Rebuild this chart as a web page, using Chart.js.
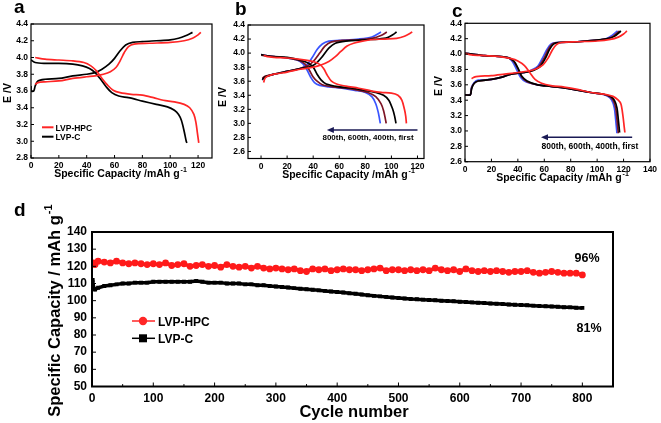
<!DOCTYPE html>
<html><head><meta charset="utf-8">
<script src="https://cdn.jsdelivr.net/npm/chart.js@4.4.1/dist/chart.umd.min.js"></script>
<style>
html,body{margin:0;padding:0;background:#fff;}
#wrap{position:relative;width:661px;height:423px;overflow:hidden;background:#fff;}
canvas{position:absolute;left:0;top:0;}
</style></head><body>
<div id="wrap">
<canvas id="ca" width="661" height="423"></canvas>
<canvas id="cb" width="661" height="423"></canvas>
<canvas id="cc" width="661" height="423"></canvas>
<canvas id="cd" width="661" height="423"></canvas>
</div>
<script>
// ---------- Panel a : charge / discharge profiles [capacity, voltage] ----------
const aHpcCharge = [[3,3.68],[5,3.70],[10,3.71],[20,3.72],[30,3.75],[40,3.77],[46,3.78],[52,3.80],[57,3.83],[61,3.88],[64,3.96],[67,4.06],[70,4.13],[74,4.16],[85,4.17],[100,4.18],[110,4.20],[116,4.23],[120,4.27],[122,4.30]];
const aHpcDischarge = [[3,4.00],[10,3.98],[20,3.97],[30,3.96],[38,3.94],[43,3.90],[47,3.84],[51,3.75],[55,3.67],[59,3.61],[64,3.58],[72,3.56],[80,3.55],[88,3.52],[95,3.49],[103,3.47],[110,3.44],[114,3.40],[117,3.32],[118.5,3.22],[119.5,3.10],[120.5,2.98]];
const aCCharge = [[0,3.66],[0,3.60],[2,3.60],[3,3.66],[5,3.72],[10,3.74],[20,3.75],[30,3.78],[40,3.80],[46,3.82],[51,3.86],[56,3.92],[60,3.99],[64,4.08],[68,4.15],[73,4.18],[80,4.19],[90,4.20],[100,4.21],[106,4.23],[111,4.26],[116,4.30]];
const aCDischarge = [[0,3.97],[3,3.94],[10,3.93],[20,3.93],[30,3.92],[37,3.90],[42,3.87],[46,3.82],[50,3.74],[54,3.65],[58,3.58],[63,3.54],[70,3.52],[80,3.48],[90,3.44],[98,3.41],[103,3.37],[106,3.32],[108,3.25],[110,3.12],[111.5,3.0],[112,2.98]];
const aXTicks = [0,20,40,60,80,100,120];
const aYTicks = [2.8,3.0,3.2,3.4,3.6,3.8,4.0,4.2,4.4];

// ---------- Panel b : LVP-C at first / 400th / 600th / 800th cycle ----------
const bFirstCharge = [[2,3.58],[3,3.64],[5,3.67],[10,3.70],[20,3.73],[30,3.77],[40,3.80],[46,3.83],[52,3.88],[57,3.95],[61,4.02],[66,4.10],[71,4.14],[78,4.17],[84,4.19],[95,4.20],[104,4.21],[110,4.24],[116,4.30]];
const bFirstDischarge = [[2,3.97],[5,3.95],[10,3.94],[20,3.93],[30,3.91],[40,3.88],[45,3.84],[48,3.78],[51,3.68],[54,3.60],[58,3.56],[65,3.53],[75,3.50],[85,3.46],[92,3.44],[100,3.43],[105,3.40],[108,3.33],[110,3.20],[111,3.10],[111.5,3.0]];
const b400Charge = [[1,3.62],[3,3.66],[10,3.70],[20,3.74],[30,3.78],[38,3.81],[42,3.85],[47,3.95],[52,4.07],[57,4.14],[65,4.17],[80,4.19],[90,4.20],[97,4.22],[101,4.26],[104,4.30]];
const b400Discharge = [[0,3.98],[5,3.96],[10,3.95],[20,3.94],[30,3.90],[36,3.86],[40,3.80],[43,3.70],[46,3.62],[50,3.56],[60,3.52],[70,3.50],[80,3.47],[88,3.44],[94,3.40],[98,3.33],[101,3.20],[102.5,3.10],[103.5,3.0]];
const b600Charge = [[1,3.64],[3,3.67],[10,3.70],[20,3.74],[30,3.78],[36,3.82],[40,3.88],[45,4.00],[49,4.10],[54,4.16],[62,4.18],[75,4.19],[85,4.21],[92,4.25],[96.5,4.30]];
const b600Discharge = [[0,3.97],[5,3.96],[10,3.95],[20,3.93],[30,3.89],[34,3.84],[37,3.76],[40,3.66],[43,3.60],[47,3.55],[55,3.52],[65,3.50],[75,3.47],[82,3.44],[88,3.38],[92,3.28],[94,3.18],[95.5,3.05],[96,3.0]];
const b800Charge = [[1,3.62],[3,3.66],[10,3.70],[20,3.74],[30,3.78],[35,3.83],[39,3.93],[43,4.05],[47,4.13],[52,4.17],[60,4.18],[75,4.20],[85,4.23],[92,4.30]];
const b800Discharge = [[0,3.98],[5,3.96],[10,3.95],[20,3.93],[28,3.90],[32,3.85],[35,3.77],[38,3.66],[41,3.58],[45,3.54],[52,3.52],[62,3.50],[72,3.47],[80,3.44],[85,3.38],[88,3.28],[90,3.15],[91,3.05],[91.5,3.0]];
const bXTicks = [0,20,40,60,80,100,120];
const bYTicks = [2.6,2.8,3.0,3.2,3.4,3.6,3.8,4.0,4.2,4.4];
const bArrowCap = [120, 50.5];
const bArrowV = 2.905;

// ---------- Panel c : LVP-HPC at first / 400th / 600th / 800th cycle ----------
const cFirstCharge = [[5,3.68],[7,3.70],[10,3.71],[20,3.72],[30,3.74],[40,3.76],[48,3.78],[54,3.81],[59,3.86],[63,3.95],[66,4.05],[69,4.12],[73,4.15],[85,4.16],[100,4.17],[110,4.19],[116,4.22],[120,4.26],[122.5,4.30]];
const cFirstDischarge = [[0,4.01],[5,3.99],[15,3.98],[25,3.97],[35,3.94],[40,3.91],[45,3.85],[49,3.76],[53,3.67],[58,3.62],[65,3.59],[75,3.57],[85,3.54],[95,3.50],[105,3.48],[112,3.45],[116,3.40],[118,3.35],[119.5,3.2],[120.5,3.05],[121,2.98]];
const c400Charge = [[0,3.47],[4,3.47],[5,3.55],[7,3.62],[10,3.65],[20,3.67],[28,3.70],[35,3.74],[45,3.76],[52,3.79],[57,3.84],[61,3.95],[64,4.06],[67,4.13],[71,4.15],[85,4.16],[100,4.18],[108,4.20],[113,4.23],[118,4.30]];
const c400Discharge = [[0,4.01],[5,4.00],[15,3.98],[25,3.97],[33,3.95],[37,3.91],[40,3.82],[43,3.71],[47,3.65],[55,3.60],[65,3.58],[75,3.56],[85,3.53],[95,3.50],[104,3.48],[110,3.45],[113,3.40],[115,3.30],[116,3.15],[117,2.98]];
const c600Charge = [[0,3.47],[4,3.47],[5,3.56],[7,3.62],[10,3.65],[20,3.67],[28,3.70],[35,3.74],[45,3.76],[52,3.79],[56,3.84],[60,3.95],[63,4.06],[66,4.13],[70,4.15],[85,4.16],[100,4.18],[108,4.20],[112,4.23],[117,4.30]];
const c600Discharge = [[0,4.01],[5,4.00],[15,3.98],[25,3.97],[33,3.95],[37,3.90],[40,3.81],[43,3.70],[47,3.64],[55,3.60],[65,3.58],[75,3.56],[85,3.53],[95,3.50],[104,3.48],[109,3.45],[112,3.40],[114,3.30],[115,3.15],[116,2.97]];
const c800Charge = [[0,3.47],[4,3.47],[5,3.57],[7,3.63],[10,3.66],[20,3.67],[28,3.70],[35,3.74],[45,3.76],[50,3.79],[55,3.84],[59,3.96],[62,4.06],[65,4.13],[69,4.15],[85,4.16],[100,4.18],[107,4.20],[111,4.24],[115.5,4.30]];
const c800Discharge = [[0,4.01],[5,4.00],[15,3.98],[25,3.97],[33,3.95],[36,3.90],[39,3.80],[42,3.70],[46,3.64],[55,3.60],[65,3.58],[75,3.56],[85,3.53],[95,3.50],[103,3.48],[108,3.45],[111,3.40],[113,3.30],[114,3.15],[115,2.97]];
const cXTicks = [0,20,40,60,80,100,120,140];
const cYTicks = [2.6,2.8,3.0,3.2,3.4,3.6,3.8,4.0,4.2,4.4];
const cArrowCap = [126.5, 57.5];
const cArrowV = 2.918;

// ---------- Panel d : cycling performance ----------
const dCycles = [1,3,5,10,20,30,40,50,60,70,80,90,100,110,120,130,140,150,160,170,180,190,200,210,220,230,240,250,260,270,280,290,300,310,320,330,340,350,360,370,380,390,400,410,420,430,440,450,460,470,480,490,500,510,520,530,540,550,560,570,580,590,600,610,620,630,640,650,660,670,680,690,700,710,720,730,740,750,760,770,780,790,800];
const dHpc = [121.5,122,121,123,122.5,122,123,122,121.5,122,121.5,121,121.5,121,122,120.5,121,121.5,120,120.5,121,120,120.5,119.5,121,120,119.5,120,119,120,119,118.5,119,118.5,118,118.5,117.5,117,118.5,118,118.5,117.5,118,118.5,118,118,117.5,118,118.5,119,117.5,118,118,117.5,118,117.5,118,117.5,119,118,117.5,118,117,118.5,117.5,117,117.5,117,117.5,117,116.5,117,117,117.5,116.5,116,116.5,117,116.5,116,116,116,115];
const dC = [112,107,106.5,107.5,108.5,109,109.5,110,110,110.5,110.5,110.5,111,111,111,111,111,111,111,111.5,111,110.5,110.5,110.5,110,110,110,109.5,109.5,109,109,108.5,108.3,108,107.7,107.3,107,106.7,106.3,106,105.7,105.4,105.1,104.7,104.3,104,103.6,103.2,102.8,102.5,102.2,101.9,101.6,101.3,101,100.8,100.6,100.4,100.2,100,99.8,99.6,99.4,99.2,99,98.8,98.6,98.4,98.2,98,97.8,97.6,97.5,97.3,97.1,96.9,96.8,96.6,96.4,96.2,96.1,95.9,95.8];
const dXTicks = [0,100,200,300,400,500,600,700,800];
const dXMinor = [50,150,250,350,450,550,650,750];
const dYTicks = [50,60,70,80,90,100,110,120,130,140];
const dSeriesNames = ['LVP-HPC','LVP-C'];
const dRetention = ['96%','81%'];

// ---------- helpers ----------
const FONT = "'Liberation Sans', Arial, Helvetica, sans-serif";
const RED = '#ff2626', BLACK = '#000000', BROWN = '#7d1526', BLUE = '#3a55ff';
const pts = arr => arr.map(p => ({x: p[0], y: p[1]}));

function txt(ctx, s, x, y, size, align, base, color) {
  ctx.font = 'bold ' + size + 'px ' + FONT;
  ctx.fillStyle = color || '#000';
  ctx.textAlign = align || 'center';
  ctx.textBaseline = base || 'alphabetic';
  ctx.fillText(s, x, y);
}
function supTitle(ctx, main, sup, cx, y, size, supSize, rotate) {
  ctx.save();
  ctx.translate(cx, y);
  if (rotate) ctx.rotate(-Math.PI / 2);
  ctx.font = 'bold ' + size + 'px ' + FONT;
  const wm = ctx.measureText(main).width;
  ctx.font = 'bold ' + supSize + 'px ' + FONT;
  const ws = ctx.measureText(sup).width;
  const start = rotate ? -wm / 2 : -(wm + ws) / 2;
  txt(ctx, main, start, 0, size, 'left', 'alphabetic');
  txt(ctx, sup, start + wm + 1, -size * 0.45, supSize, 'left', 'alphabetic');
  ctx.restore();
}
function rotText(ctx, s, x, y, size) {
  ctx.save(); ctx.translate(x, y); ctx.rotate(-Math.PI / 2);
  txt(ctx, s, 0, 0, size, 'center', 'middle'); ctx.restore();
}
function arrow(ctx, x1, x2, y, color) {
  ctx.save();
  ctx.strokeStyle = color; ctx.fillStyle = color; ctx.lineWidth = 1.6;
  ctx.beginPath(); ctx.moveTo(x1, y); ctx.lineTo(x2 + 5, y); ctx.stroke();
  ctx.beginPath(); ctx.moveTo(x2, y); ctx.lineTo(x2 + 7, y - 3); ctx.lineTo(x2 + 7, y + 3); ctx.closePath(); ctx.fill();
  ctx.restore();
}

function decor(p) {
  return {
    id: 'decor',
    afterDraw(chart) {
      const ctx = chart.ctx, a = chart.chartArea, xs = chart.scales.x, ys = chart.scales.y;
      ctx.save();
      ctx.strokeStyle = '#000';
      ctx.lineWidth = p.frameW;
      ctx.strokeRect(a.left, a.top, a.right - a.left, a.bottom - a.top);
      ctx.lineWidth = 1;
      ctx.beginPath();
      p.xTicks.forEach(v => { const x = xs.getPixelForValue(v); ctx.moveTo(x, a.bottom); ctx.lineTo(x, a.bottom - p.tickLen); });
      (p.xMinor || []).forEach(v => { const x = xs.getPixelForValue(v); ctx.moveTo(x, a.bottom); ctx.lineTo(x, a.bottom - p.tickLen * 0.6); });
      p.yTicks.forEach(v => { const y = ys.getPixelForValue(v); ctx.moveTo(a.left, y); ctx.lineTo(a.left + p.tickLen, y); });
      ctx.stroke();
      p.draw(ctx, chart, xs, ys);
      ctx.restore();
    }
  };
}

function build(id, p, datasets) {
  const AXW = 30, AXH = 24;
  new Chart(document.getElementById(id), {
    type: 'scatter',
    data: {datasets},
    options: {
      responsive: false, animation: false, events: [],
      layout: {padding: {left: p.area[0] - AXW, top: p.area[1], right: 661 - p.area[2], bottom: 423 - p.area[3] - AXH}},
      plugins: {legend: {display: false}, tooltip: {enabled: false}},
      elements: {line: {tension: 0.3}},
      scales: {
        x: {
          type: 'linear', min: p.xMin, max: p.xMax,
          afterFit: s => { s.height = AXH; },
          afterBuildTicks: s => { s.ticks = p.xTicks.map(v => ({value: v})); },
          grid: {display: false, drawTicks: false}, border: {display: false},
          ticks: {color: '#000', padding: p.xPad, maxRotation: 0, autoSkip: false,
                  font: {family: FONT, weight: 'bold', size: p.tickSize},
                  callback: v => String(v)}
        },
        y: {
          type: 'linear', min: p.yMin, max: p.yMax,
          afterFit: s => { s.width = AXW; },
          afterBuildTicks: s => { s.ticks = p.yTicks.map(v => ({value: v})); },
          grid: {display: false, drawTicks: false}, border: {display: false},
          ticks: {color: '#000', padding: p.yPad, autoSkip: false,
                  font: {family: FONT, weight: 'bold', size: p.tickSize},
                  callback: v => p.yFmt(v)}
        }
      }
    },
    plugins: [decor(p)]
  });
}
const curve = (data, color) => ({data: pts(data), showLine: true, borderColor: color, borderWidth: 1.7, pointRadius: 0, fill: false});
const f1 = v => Number(v).toFixed(1);

// ---------- Panel a ----------
build('ca', {
  area: [31, 24, 212, 158], xMin: 0, xMax: 130, yMin: 2.8, yMax: 4.4,
  xTicks: aXTicks, yTicks: aYTicks, xPad: 3, yPad: 3, tickSize: 8.5, tickLen: 3, frameW: 1.2, yFmt: f1,
  draw(ctx) {
    txt(ctx, 'a', 14, 13, 19, 'left');
    rotText(ctx, 'E /V', 8, 93, 10.5);
    supTitle(ctx, 'Specific Capacity /mAh g', '-1', 120, 176.5, 10.5, 7, false);
    ctx.lineWidth = 2;
    ctx.strokeStyle = RED; ctx.beginPath(); ctx.moveTo(42, 127.3); ctx.lineTo(53.5, 127.3); ctx.stroke();
    ctx.strokeStyle = BLACK; ctx.beginPath(); ctx.moveTo(42, 136.7); ctx.lineTo(53.5, 136.7); ctx.stroke();
    txt(ctx, 'LVP-HPC', 55.5, 130.5, 8.5, 'left');
    txt(ctx, 'LVP-C', 55.5, 140, 8.5, 'left');
  }
}, [curve(aHpcCharge, RED), curve(aHpcDischarge, RED), curve(aCCharge, BLACK), curve(aCDischarge, BLACK)]);

// ---------- Panel b ----------
build('cb', {
  area: [248, 25, 424, 158.5], xMin: -10, xMax: 125, yMin: 2.5, yMax: 4.4,
  xTicks: bXTicks, yTicks: bYTicks, xPad: 3, yPad: 3, tickSize: 8.5, tickLen: 3, frameW: 1.2, yFmt: f1,
  draw(ctx, chart, xs, ys) {
    txt(ctx, 'b', 235, 15, 19, 'left');
    rotText(ctx, 'E /V', 223.5, 97, 10.5);
    supTitle(ctx, 'Specific Capacity /mAh g', '-1', 348, 178, 10.5, 7, false);
    arrow(ctx, xs.getPixelForValue(bArrowCap[0]), xs.getPixelForValue(bArrowCap[1]), ys.getPixelForValue(bArrowV), '#1a1a55');
    txt(ctx, '800th, 600th, 400th, first', 368, 139.7, 8, 'center');
  }
}, [curve(bFirstCharge, RED), curve(bFirstDischarge, RED), curve(b400Charge, BLACK), curve(b400Discharge, BLACK),
    curve(b600Charge, BROWN), curve(b600Discharge, BROWN), curve(b800Charge, BLUE), curve(b800Discharge, BLUE)]);

// ---------- Panel c ----------
build('cc', {
  area: [465, 23.3, 650, 161.7], xMin: 0, xMax: 140, yMin: 2.6, yMax: 4.4,
  xTicks: cXTicks, yTicks: cYTicks, xPad: 3, yPad: 3, tickSize: 8.5, tickLen: 3, frameW: 1.2, yFmt: f1,
  draw(ctx, chart, xs, ys) {
    txt(ctx, 'c', 452, 16.7, 19, 'left');
    rotText(ctx, 'E /V', 439.5, 86, 10.5);
    supTitle(ctx, 'Specific Capacity /mAh g', '-1', 562, 181, 10.5, 7, false);
    arrow(ctx, xs.getPixelForValue(cArrowCap[0]), xs.getPixelForValue(cArrowCap[1]), ys.getPixelForValue(cArrowV), '#1a1a55');
    txt(ctx, '800th, 600th, 400th, first', 590, 148.7, 8.5, 'center');
  }
}, [curve(cFirstCharge, RED), curve(cFirstDischarge, RED), curve(c400Charge, BLACK), curve(c400Discharge, BLACK),
    curve(c600Charge, BROWN), curve(c600Discharge, BROWN), curve(c800Charge, BLUE), curve(c800Discharge, BLUE)]);

// ---------- Panel d ----------
build('cd', {
  area: [92, 232, 613, 386.5], xMin: 0, xMax: 850, yMin: 50, yMax: 140,
  xTicks: dXTicks, xMinor: dXMinor, yTicks: dYTicks, xPad: 5, yPad: 5, tickSize: 12, tickLen: 4, frameW: 2, yFmt: v => String(v),
  draw(ctx) {
    txt(ctx, 'd', 14, 216, 19, 'left');
    supTitle(ctx, 'Specific Capacity / mAh g', '-1', 59.5, 316, 16.5, 11, true);
    txt(ctx, 'Cycle number', 354, 417, 16.5, 'center');
    // legend
    ctx.lineWidth = 1.5;
    ctx.strokeStyle = RED; ctx.beginPath(); ctx.moveTo(132, 321); ctx.lineTo(155, 321); ctx.stroke();
    ctx.fillStyle = RED; ctx.beginPath(); ctx.arc(143, 321, 4.2, 0, Math.PI * 2); ctx.fill();
    ctx.strokeStyle = BLACK; ctx.beginPath(); ctx.moveTo(132, 338.3); ctx.lineTo(155, 338.3); ctx.stroke();
    ctx.fillStyle = BLACK; ctx.fillRect(139, 334.3, 8, 8);
    txt(ctx, dSeriesNames[0], 158, 325.5, 12, 'left');
    txt(ctx, dSeriesNames[1], 158, 342.8, 12, 'left');
    txt(ctx, dRetention[0], 587, 261.5, 12.5, 'center');
    txt(ctx, dRetention[1], 589, 331.5, 12.5, 'center');
  }
}, [
  {data: dCycles.map((c, i) => ({x: c, y: dHpc[i]})), showLine: true, borderColor: '#ff1a1a', borderWidth: 3.5,
   pointStyle: 'circle', pointRadius: 3.4, pointBackgroundColor: '#ff1a1a', pointBorderWidth: 0, tension: 0},
  {data: dCycles.map((c, i) => ({x: c, y: dC[i]})), showLine: true, borderColor: '#000', borderWidth: 3.5,
   pointStyle: 'rect', pointRadius: 2.8, pointBackgroundColor: '#000', pointBorderWidth: 0, tension: 0}
]);
</script>
</body></html>
